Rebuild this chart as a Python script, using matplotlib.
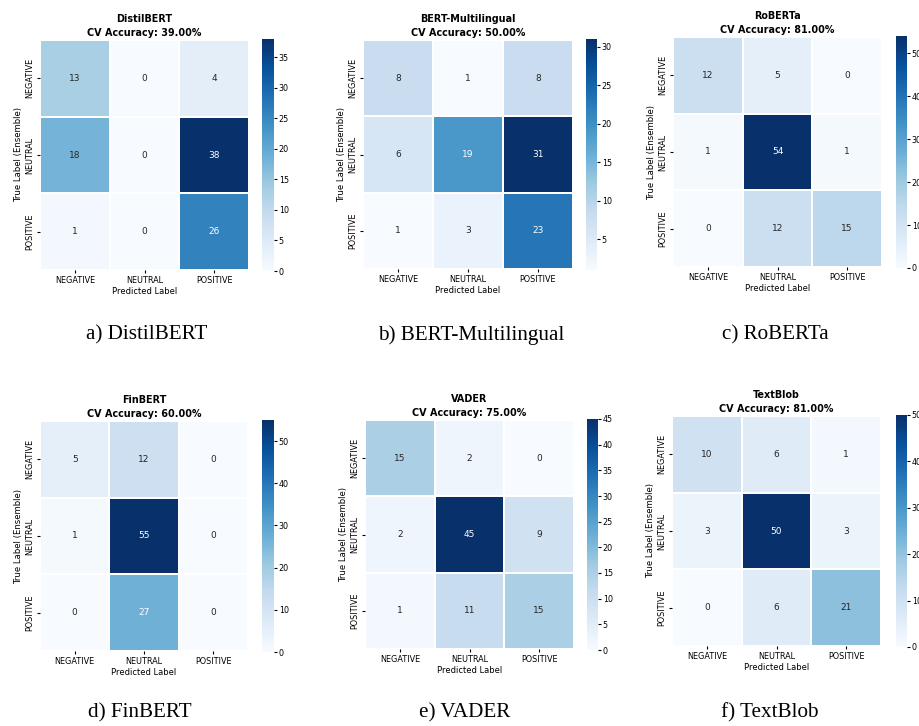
import numpy as np
import matplotlib
matplotlib.use("Agg")
import matplotlib.pyplot as plt
import seaborn as sns

labels = ["NEGATIVE", "NEUTRAL", "POSITIVE"]

models = ["DistilBERT", "BERT-Multilingual", "RoBERTa", "FinBERT", "VADER", "TextBlob"]
accuracy = [39.00, 50.00, 81.00, 60.00, 75.00, 81.00]
captions = ["a) DistilBERT", "b) BERT-Multilingual", "c) RoBERTa",
            "d) FinBERT", "e) VADER", "f) TextBlob"]

cm_distilbert = [[13, 0, 4], [18, 0, 38], [1, 0, 26]]
cm_bert_multi = [[8, 1, 8], [6, 19, 31], [1, 3, 23]]
cm_roberta = [[12, 5, 0], [1, 54, 1], [0, 12, 15]]
cm_finbert = [[5, 12, 0], [1, 55, 0], [0, 27, 0]]
cm_vader = [[15, 2, 0], [2, 45, 9], [1, 11, 15]]
cm_textblob = [[10, 6, 1], [3, 50, 3], [0, 6, 21]]

matrices = [cm_distilbert, cm_bert_multi, cm_roberta, cm_finbert, cm_vader, cm_textblob]

W, H = 919, 726
fig = plt.figure(figsize=(W / 100, H / 100), dpi=100)

# pixel boxes (x0, x1, y0, y1) for heatmap and colorbar
heat_boxes = [(40, 249, 40, 270), (363, 573, 40, 269), (673, 882, 37, 267),
              (40, 248, 421, 651), (365, 574, 420, 649), (672, 881, 416, 646)]
cbar_boxes = [(262, 274, 39, 271), (586, 597, 39, 270), (896, 907, 36, 268),
              (262, 274, 420, 652), (587, 598, 419, 650), (896, 907, 415, 647)]
caption_pos = [(147, 335), (471, 335), (775, 335),
               (140, 713), (465, 713), (770, 713)]


def px_axes(box):
    x0, x1, y0, y1 = box
    return fig.add_axes([x0 / W, 1 - y1 / H, (x1 - x0) / W, (y1 - y0) / H])


for i, cm in enumerate(matrices):
    ax = px_axes(heat_boxes[i])
    cax = px_axes(cbar_boxes[i])
    sns.heatmap(np.array(cm), annot=True, fmt="d", cmap="Blues", ax=ax, cbar_ax=cax,
                xticklabels=labels, yticklabels=labels,
                linewidths=0.15, linecolor="white",
                annot_kws={"fontsize": 6.5})
    ax.set_title(f"{models[i]}\nCV Accuracy: {accuracy[i]:.2f}%",
                 fontsize=6.9, fontweight="bold", pad=3, linespacing=1.45)
    ax.set_xlabel("Predicted Label", fontsize=6.0, labelpad=2)
    ax.set_ylabel("True Label (Ensemble)", fontsize=6.1, labelpad=2)
    ax.tick_params(labelsize=5.9, length=2, pad=2)
    ax.set_yticklabels(labels, rotation=90, va="center")
    ax.set_xticklabels(labels, rotation=0)
    cax.tick_params(labelsize=5.8, length=2, pad=1.5)
    for s in cax.spines.values():
        s.set_visible(False)
    cx, cy = caption_pos[i]
    fig.text(cx / W, 1 - cy / H, captions[i], ha="center", va="center",
             fontsize=15.2, family="Liberation Serif")

fig.savefig("out.png", dpi=100)
